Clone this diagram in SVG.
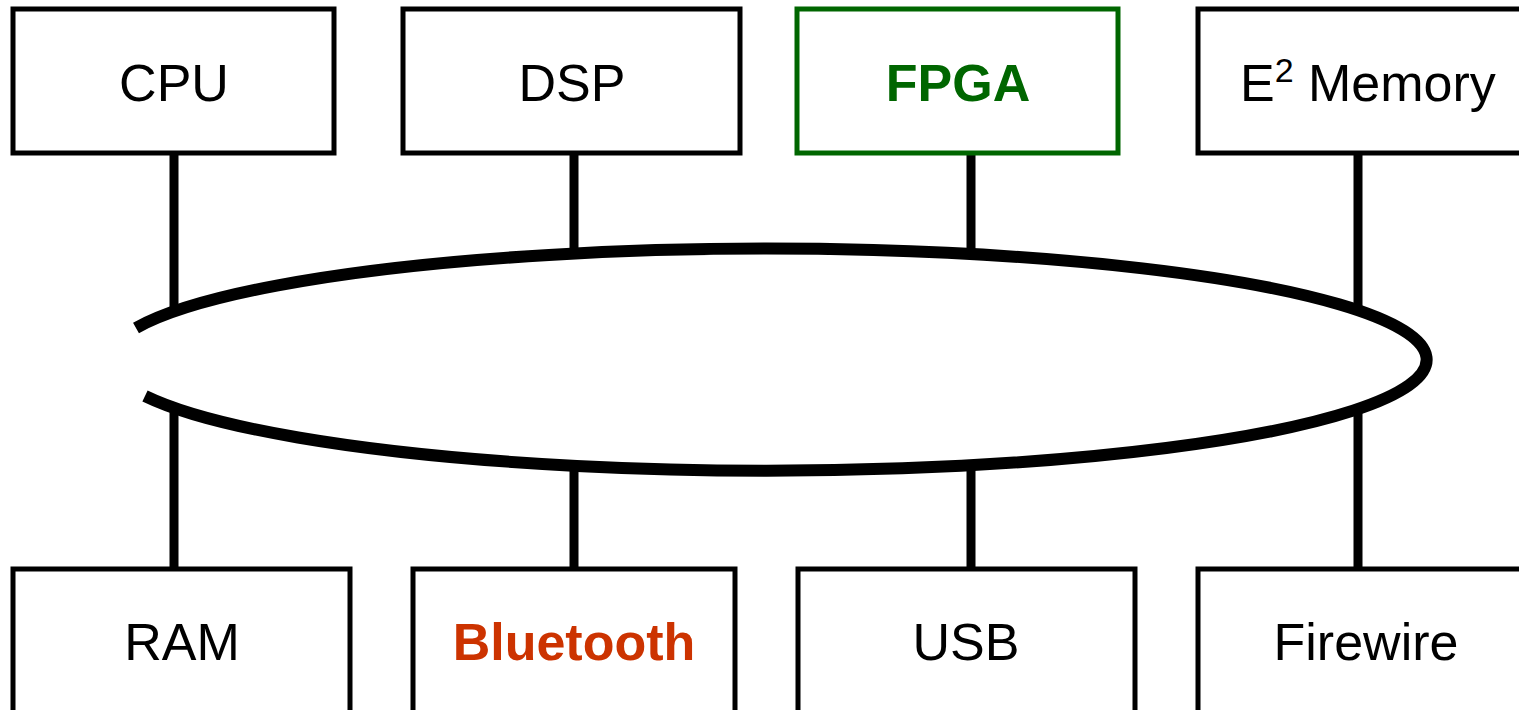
<svg xmlns="http://www.w3.org/2000/svg" width="1519" height="710" viewBox="0 0 1519 710">
<style>
.box{fill:#fff;stroke:#000;stroke-width:5}
.t{font-family:"Liberation Sans",Arial,sans-serif;font-size:52px;fill:#000;text-anchor:middle}
.b{font-weight:bold}
.c{stroke:#000;stroke-width:9;fill:none}
</style>
<rect width="1519" height="710" fill="#fff"/>
<g id="connectors">
<line class="c" x1="174" y1="153" x2="174" y2="308"/>
<line class="c" x1="574" y1="153" x2="574" y2="252"/>
<line class="c" x1="971" y1="153" x2="971" y2="252"/>
<line class="c" x1="1358" y1="153" x2="1358" y2="308"/>
<line class="c" x1="174" y1="410" x2="174" y2="569"/>
<line class="c" x1="574" y1="468" x2="574" y2="569"/>
<line class="c" x1="971" y1="468" x2="971" y2="569"/>
<line class="c" x1="1358" y1="410" x2="1358" y2="569"/>
<path id="bus" d="M 136 328 A 659 111 0 1 1 145 396" fill="none" stroke="#000" stroke-width="12"/>
</g>
<g id="cpu"><rect class="box" x="13" y="9" width="321" height="144"/><text class="t" x="174" y="101">CPU</text></g>
<g id="dsp"><rect class="box" x="403" y="9" width="337" height="144"/><text class="t" x="572" y="101">DSP</text></g>
<g id="fpga"><rect class="box" x="797" y="9" width="321" height="144" style="stroke:#006600"/><text class="t b" x="958" y="101" style="fill:#006600">FPGA</text></g>
<g id="e2memory"><rect class="box" x="1198" y="9" width="330" height="144"/><text class="t" x="1240" y="101" style="text-anchor:start">E<tspan font-size="34" dy="-19">2</tspan><tspan dy="19"> Memory</tspan></text></g>
<g id="ram"><rect class="box" x="13" y="569" width="337" height="150"/><text class="t" x="182" y="660">RAM</text></g>
<g id="bluetooth"><rect class="box" x="413" y="569" width="322" height="150"/><text class="t b" x="574" y="660" style="fill:#cc3300">Bluetooth</text></g>
<g id="usb"><rect class="box" x="798" y="569" width="337" height="150"/><text class="t" x="966" y="660">USB</text></g>
<g id="firewire"><rect class="box" x="1198" y="569" width="330" height="150"/><text class="t" x="1366" y="660">Firewire</text></g>
</svg>
